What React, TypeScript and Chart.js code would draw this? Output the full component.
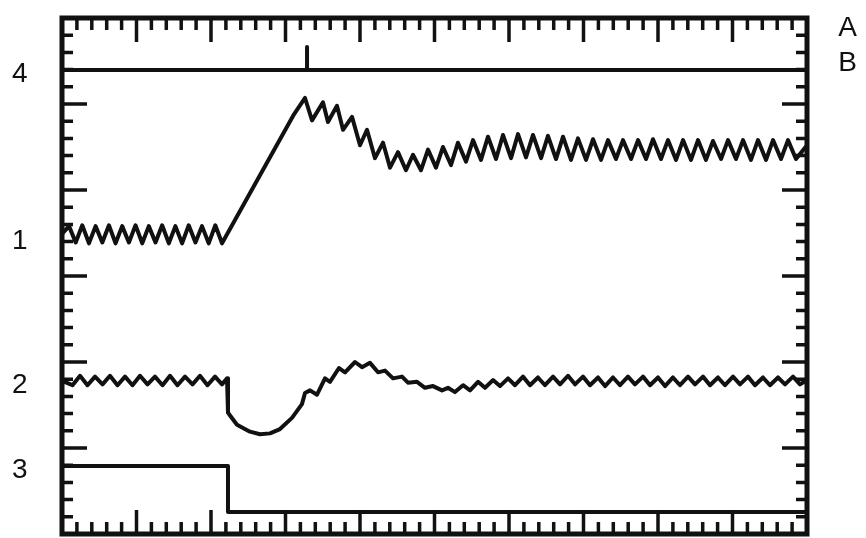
import React, { useEffect, useRef } from 'react';
import { Chart, registerables } from 'chart.js';

Chart.register(...registerables);

type P = [number, number];

// x: horizontal divisions (0..10), y: vertical divisions (0..6)
const trace4: P[] = [[0, 5.395], [3.289, 5.395], [3.289, 5.663], [3.289, 5.395], [10, 5.395]];

const trace1Baseline: P[] = [
  [0, 3.49], [0.094, 3.58], [0.184, 3.39], [0.272, 3.59], [0.362, 3.38], [0.451, 3.58],
  [0.541, 3.39], [0.63, 3.59], [0.719, 3.38], [0.808, 3.58], [0.898, 3.39], [0.987, 3.59],
  [1.077, 3.38], [1.165, 3.58], [1.255, 3.39], [1.344, 3.59], [1.434, 3.38], [1.522, 3.58],
  [1.612, 3.38], [1.701, 3.59], [1.791, 3.39], [1.879, 3.58], [1.969, 3.38], [2.058, 3.59],
  [2.148, 3.38],
];
const trace1Rise: P[] = [[3.114, 4.88], [3.262, 5.07]];
const trace1Decay: P[] = [
  [3.356, 4.81], [3.503, 5.02], [3.57, 4.79], [3.691, 4.98], [3.772, 4.7], [3.893, 4.85],
  [4.0, 4.52], [4.094, 4.7], [4.201, 4.37], [4.309, 4.55], [4.403, 4.26], [4.51, 4.44],
  [4.617, 4.23],
];
const trace1Settle: P[] = [
  [4.711, 4.41], [4.819, 4.23], [4.913, 4.47], [5.02, 4.26], [5.114, 4.5], [5.221, 4.29],
  [5.315, 4.55], [5.423, 4.33], [5.517, 4.58], [5.624, 4.35], [5.718, 4.62], [5.826, 4.36],
  [5.919, 4.64], [6.027, 4.37], [6.121, 4.65], [6.228, 4.38], [6.322, 4.64], [6.43, 4.37],
  [6.523, 4.63], [6.631, 4.36], [6.725, 4.62], [6.832, 4.35], [6.926, 4.6], [7.034, 4.35],
  [7.128, 4.59], [7.235, 4.35], [7.329, 4.58], [7.436, 4.36], [7.53, 4.58], [7.638, 4.36],
  [7.732, 4.58], [7.839, 4.36], [7.933, 4.59], [8.04, 4.36], [8.134, 4.58], [8.242, 4.35],
  [8.336, 4.58], [8.443, 4.35], [8.537, 4.58], [8.644, 4.35], [8.738, 4.57], [8.846, 4.36],
  [8.94, 4.58], [9.047, 4.36], [9.141, 4.58], [9.248, 4.35], [9.342, 4.58], [9.45, 4.35],
  [9.544, 4.58], [9.651, 4.36], [9.745, 4.58], [9.852, 4.36], [10, 4.52],
];

const trace2Baseline: P[] = [
  [0, 1.78], [0.141, 1.73], [0.242, 1.84], [0.342, 1.73], [0.443, 1.83], [0.544, 1.74],
  [0.644, 1.84], [0.745, 1.73], [0.846, 1.83], [0.946, 1.73], [1.047, 1.84], [1.148, 1.74],
  [1.248, 1.83], [1.349, 1.73], [1.45, 1.84], [1.55, 1.73], [1.651, 1.83], [1.752, 1.74],
  [1.852, 1.84], [1.953, 1.73], [2.054, 1.83], [2.148, 1.74], [2.215, 1.81],
];
const trace2Dip: P[] = [
  [2.228, 1.41], [2.349, 1.27], [2.523, 1.19], [2.658, 1.16], [2.792, 1.17], [2.926, 1.22],
  [3.087, 1.35], [3.221, 1.51],
];
const trace2Recovery: P[] = [
  [3.262, 1.64], [3.329, 1.67], [3.423, 1.62], [3.53, 1.81], [3.597, 1.77], [3.718, 1.93],
  [3.799, 1.88], [3.933, 2.0], [4.027, 1.94], [4.134, 1.99], [4.242, 1.88], [4.336, 1.9],
  [4.443, 1.81], [4.564, 1.83], [4.644, 1.76], [4.765, 1.77], [4.872, 1.7], [4.98, 1.72],
  [5.101, 1.67], [5.181, 1.7], [5.275, 1.65], [5.383, 1.73], [5.477, 1.67], [5.584, 1.77],
  [5.678, 1.7], [5.785, 1.79], [5.879, 1.72], [5.987, 1.81], [6.081, 1.73],
];
const trace2Settle: P[] = [
  [6.188, 1.83], [6.282, 1.73], [6.389, 1.82], [6.483, 1.73], [6.591, 1.83], [6.685, 1.74],
  [6.792, 1.84], [6.886, 1.74], [6.993, 1.83], [7.087, 1.73], [7.195, 1.82], [7.289, 1.72],
  [7.396, 1.82], [7.49, 1.73], [7.597, 1.83], [7.691, 1.74], [7.799, 1.83], [7.893, 1.73],
  [8.0, 1.82], [8.094, 1.72], [8.201, 1.82], [8.295, 1.73], [8.403, 1.83], [8.497, 1.74],
  [8.604, 1.83], [8.698, 1.73], [8.805, 1.82], [8.899, 1.73], [9.007, 1.83], [9.101, 1.74],
  [9.208, 1.83], [9.302, 1.73], [9.409, 1.82], [9.503, 1.73], [9.611, 1.82], [9.705, 1.74],
  [9.812, 1.83], [9.906, 1.74], [10, 1.79],
];

const trace3: P[] = [[0, 0.79], [2.228, 0.79], [2.228, 0.256], [10, 0.256]];

const leftLabels = ['4', '1', '2', '3'];
const leftLabelPos = [5.35, 3.4, 1.73, 0.74];
const rightLabels = ['A', 'B'];
const rightLabelPos = [5.88, 5.47];

const X_DIVS = 10;
const Y_DIVS = 6;
const MINOR = 5;

const INK = '#111111';

const toPts = (arr: P[]) => arr.map(([x, y]) => ({ x, y }));

const framePlugin = {
  id: 'scopeFrame',
  afterDatasetsDraw(chart: any) {
    const { ctx, chartArea } = chart;
    const { left, right, top, bottom } = chartArea;
    const xs = chart.scales.x;
    const ys = chart.scales.y;
    ctx.save();
    ctx.strokeStyle = INK;
    ctx.lineCap = 'butt';
    ctx.lineWidth = 3.5;
    ctx.beginPath();
    for (let i = 1; i < X_DIVS * MINOR; i++) {
      const px = xs.getPixelForValue(i / MINOR);
      const len = i % MINOR === 0 ? 24 : 12;
      ctx.moveTo(px, top);
      ctx.lineTo(px, top + len);
      ctx.moveTo(px, bottom);
      ctx.lineTo(px, bottom - len);
    }
    for (let i = 1; i < Y_DIVS * MINOR; i++) {
      const py = ys.getPixelForValue(i / MINOR);
      const len = i % MINOR === 0 ? 25 : 11;
      ctx.moveTo(left, py);
      ctx.lineTo(left + len, py);
      ctx.moveTo(right, py);
      ctx.lineTo(right - len, py);
    }
    ctx.stroke();
    ctx.lineWidth = 5;
    ctx.strokeRect(left, top, right - left, bottom - top);
    ctx.restore();
  },
};

export default function App() {
  const ref = useRef<HTMLCanvasElement | null>(null);

  useEffect(() => {
    if (!ref.current) return;
    const line = (data: P[]) => ({
      data: toPts(data),
      showLine: true,
      borderColor: INK,
      borderWidth: 4,
      pointRadius: 0,
      tension: 0,
      borderJoinStyle: 'round' as const,
      borderCapStyle: 'round' as const,
    });
    const font = { family: "'Liberation Sans', Arial, sans-serif", size: 28 };
    const labelAxis = (position: 'left' | 'right', pos: number[], labels: string[]) => ({
      type: 'linear',
      position,
      min: 0,
      max: Y_DIVS,
      grid: { display: false, drawTicks: false },
      border: { display: false },
      afterBuildTicks: (scale: any) => {
        scale.ticks = pos.map((v) => ({ value: v }));
      },
      afterFit: (scale: any) => {
        scale.width = 50;
        scale.paddingTop = 0;
        scale.paddingBottom = 0;
      },
      ticks: {
        autoSkip: false,
        padding: 0,
        crossAlign: 'far',
        color: INK,
        font,
        callback: (v: any) => {
          const i = pos.indexOf(Number(v));
          return i >= 0 ? labels[i] : '';
        },
      },
    });
    const chart = new Chart(ref.current, {
      type: 'scatter',
      data: {
        datasets: [
          line(trace4),
          line([...trace1Baseline, ...trace1Rise, ...trace1Decay, ...trace1Settle]),
          line([...trace2Baseline, ...trace2Dip, ...trace2Recovery, ...trace2Settle]),
          line(trace3),
        ],
      },
      options: {
        animation: false,
        responsive: true,
        maintainAspectRatio: false,
        layout: { padding: { top: 18, bottom: 4, left: 12, right: 9 } },
        plugins: { legend: { display: false }, tooltip: { enabled: false } },
        scales: {
          x: { type: 'linear', min: 0, max: X_DIVS, display: false },
          y: labelAxis('left', leftLabelPos, leftLabels),
          y2: labelAxis('right', rightLabelPos, rightLabels),
        },
      } as any,
      plugins: [framePlugin],
    });
    return () => chart.destroy();
  }, []);

  return (
    <div style={{ position: 'absolute', left: 0, top: 0, width: 866, height: 538, background: '#fff' }}>
      <canvas ref={ref} />
    </div>
  );
}
